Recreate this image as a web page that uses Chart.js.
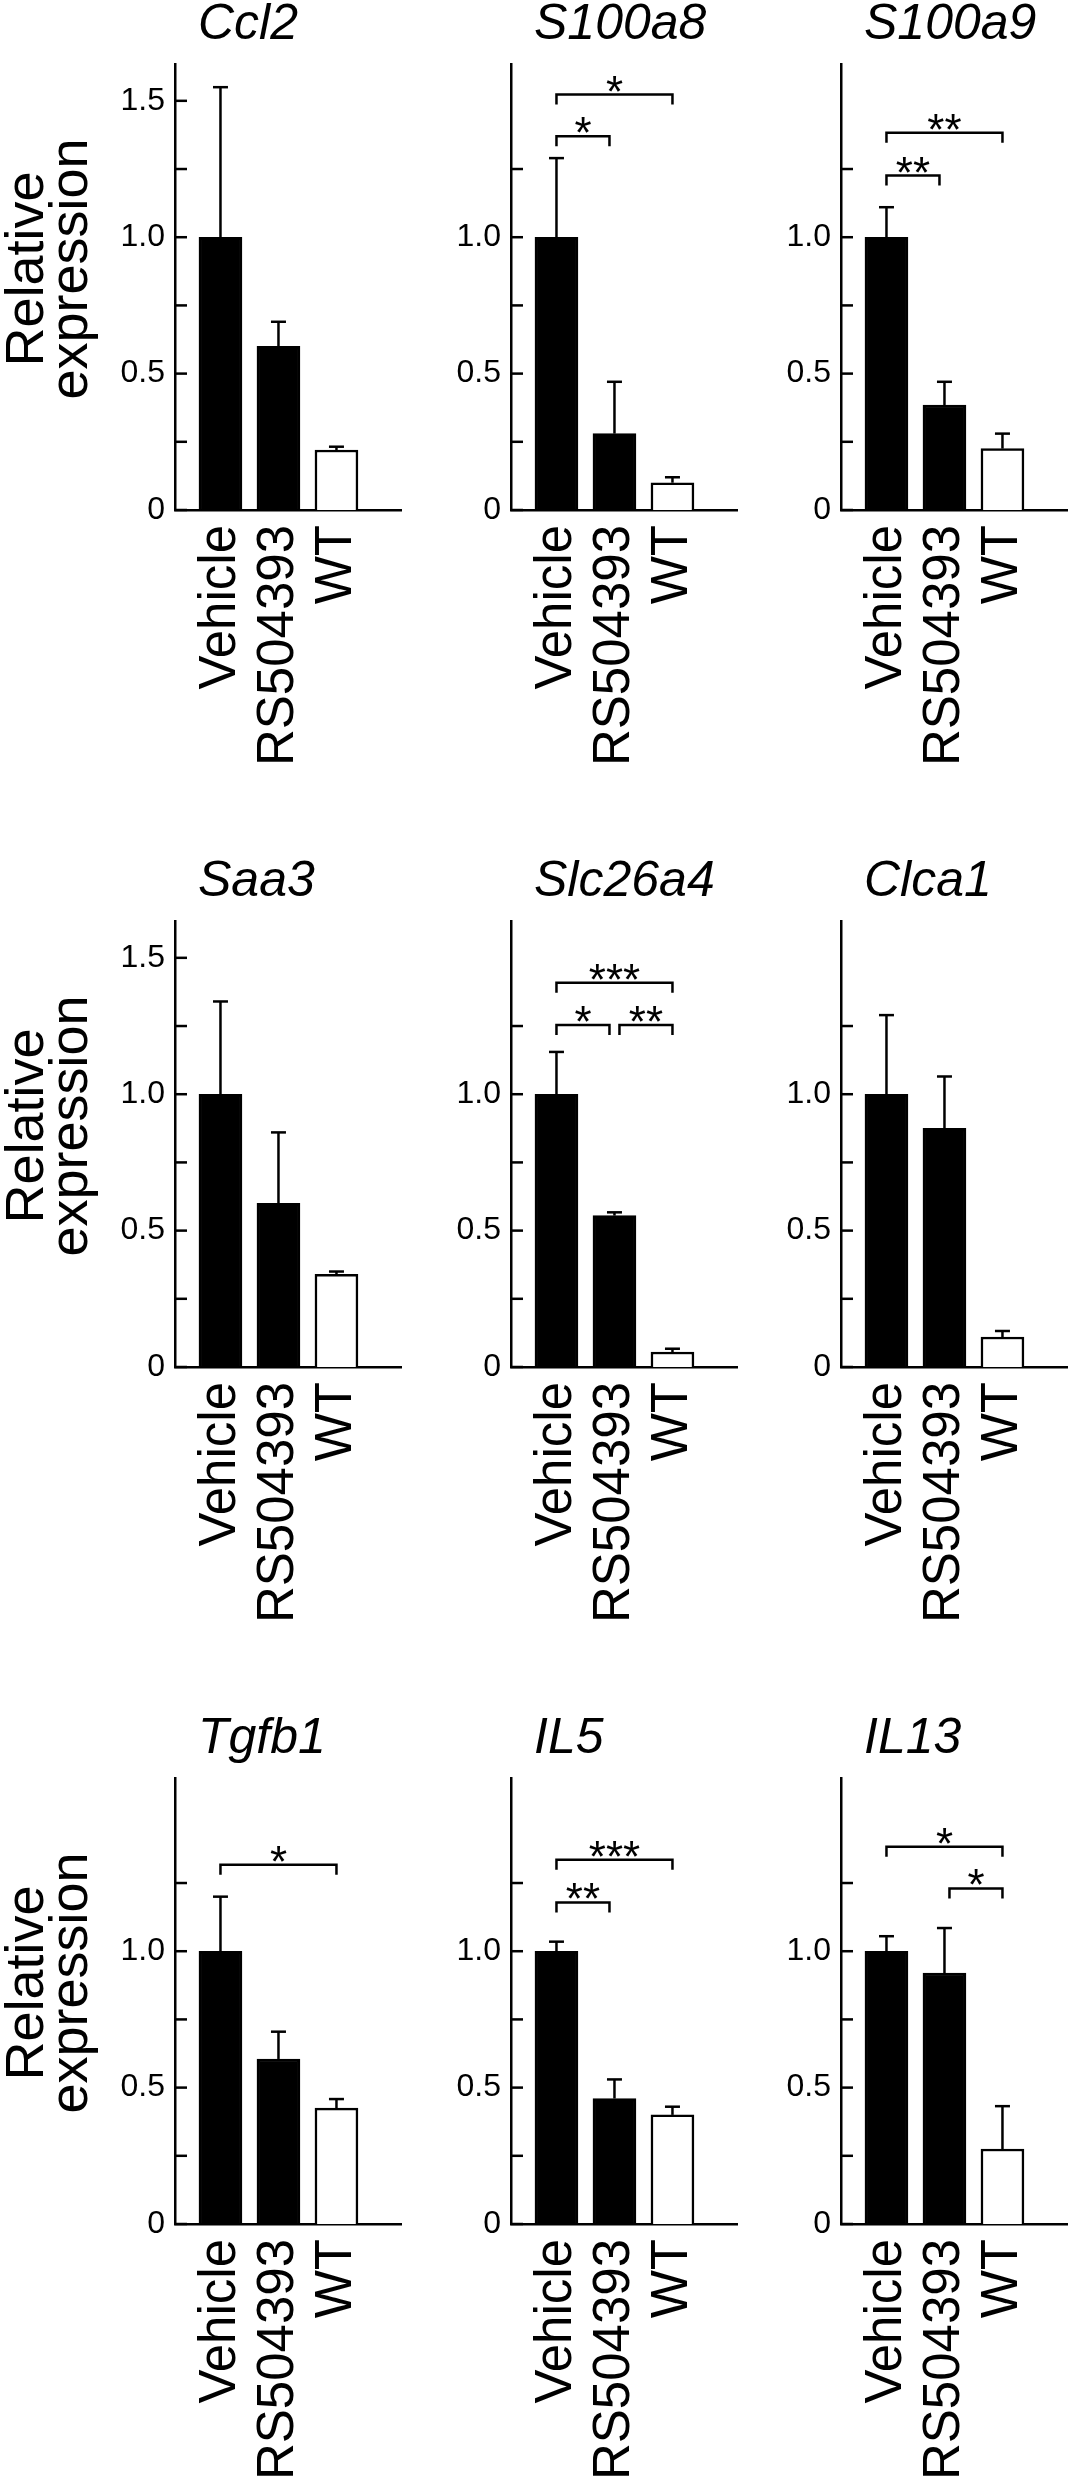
<!DOCTYPE html>
<html>
<head>
<meta charset="utf-8">
<title>Relative expression</title>
<script src="https://cdn.jsdelivr.net/npm/chart.js@4.4.0/dist/chart.umd.min.js"></script>
<style>
  html, body { margin: 0; padding: 0; background: #fff; }
  body { width: 1070px; height: 2481px; position: relative; overflow: hidden; }
  canvas { position: absolute; }
</style>
</head>
<body>
<script>
// Data
const groups = ['Vehicle', 'RS504393', 'WT'];
const genes = ['Ccl2', 'S100a8', 'S100a9', 'Saa3', 'Slc26a4', 'Clca1', 'Tgfb1', 'IL5', 'IL13'];

const means = [
    [1.00, 0.60, 0.22],
    [1.00, 0.28, 0.10],
    [1.00, 0.385, 0.225],
    [1.00, 0.60, 0.34],
    [1.00, 0.555, 0.055],
    [1.00, 0.875, 0.11],
    [1.00, 0.605, 0.425],
    [1.00, 0.46, 0.40],
    [1.00, 0.92, 0.275]
];

// SEM (upper whisker only)
const sems = [
    [0.55, 0.09, 0.012],
    [0.29, 0.19, 0.02],
    [0.11, 0.085, 0.055],
    [0.34, 0.26, 0.01],
    [0.155, 0.012, 0.012],
    [0.29, 0.19, 0.022],
    [0.20, 0.10, 0.033],
    [0.035, 0.07, 0.03],
    [0.055, 0.165, 0.157]
];

// highest tick mark drawn on each y axis
const tickTops = [1.5, 1.25, 1.25, 1.5, 1.25, 1.25, 1.25, 1.25, 1.25];
const tickMarks = [0, 0.25, 0.5, 0.75, 1.0, 1.25, 1.5];
const yLabelValues = [0, 0.5, 1.0, 1.5];
const yLabelText = ['0', '0.5', '1.0', '1.5'];

// significance brackets: [from group, to group, height, stars]
const brackets = [
    [],
    [[0, 1, 1.37, '*'], [0, 2, 1.523, '*']],
    [[0, 1, 1.226, '**'], [0, 2, 1.383, '**']],
    [],
    [[0, 1, 1.254, '*'], [1, 2, 1.254, '**'], [0, 2, 1.409, '***']],
    [],
    [[0, 2, 1.317, '*']],
    [[0, 1, 1.179, '**'], [0, 2, 1.335, '***']],
    [[0, 2, 1.383, '*'], [1, 2, 1.23, '*']]
];

const barFills = ['#000', '#000', '#fff'];

// Layout
const FONT = '"Liberation Sans", Arial, Helvetica, sans-serif';
const colLeft = [0, 336, 666];
const rowTop = [0, 857, 1714];
const CANVAS_W = 402, CANVAS_H = 767;
const AXIS_W = 175, TOP_PAD = 64, XAXIS_H = 257;
const Y_MAX = 1.635;

Chart.defaults.font.family = FONT;
Chart.defaults.color = '#000';

function line(ctx, x1, y1, x2, y2) {
    ctx.beginPath();
    ctx.moveTo(x1, y1);
    ctx.lineTo(x2, y2);
    ctx.stroke();
}

const decor = {
    id: 'decor',
    afterDatasetsDraw(chart, args, opts) {
        const k = opts.k;
        const { ctx, chartArea: a } = chart;
        const x = chart.scales.x, y = chart.scales.y;
        ctx.save();
        ctx.strokeStyle = '#000';
        ctx.fillStyle = '#000';
        ctx.lineWidth = 2.5;

        // tick marks point into the plot
        tickMarks.filter(v => v <= tickTops[k] + 1e-9).forEach(v => {
            const py = y.getPixelForValue(v);
            line(ctx, a.left, py, a.left + 12, py);
        });

        // error bars
        means[k].forEach((m, i) => {
            const px = x.getPixelForValue(i);
            const y0 = y.getPixelForValue(m);
            const y1 = y.getPixelForValue(m + sems[k][i]);
            line(ctx, px, y0, px, y1);
            line(ctx, px - 7.5, y1, px + 7.5, y1);
        });

        // brackets with stars
        ctx.font = '44px ' + FONT;
        ctx.textAlign = 'center';
        ctx.textBaseline = 'alphabetic';
        brackets[k].forEach(([i, j, v, stars]) => {
            let x1 = x.getPixelForValue(i);
            let x2 = x.getPixelForValue(j);
            if (i > 0) x1 += 5;
            if (j < groups.length - 1) x2 -= 5;
            const by = y.getPixelForValue(v);
            ctx.beginPath();
            ctx.moveTo(x1, by + 10);
            ctx.lineTo(x1, by);
            ctx.lineTo(x2, by);
            ctx.lineTo(x2, by + 10);
            ctx.stroke();
            ctx.fillText(stars, (x1 + x2) / 2, by + 12);
        });

        // gene name
        ctx.font = 'italic 50px ' + FONT;
        ctx.textAlign = 'left';
        ctx.fillText(genes[k], a.left + 23, a.top - 25);

        // y axis title on the first column
        if (k % 3 === 0) {
            ctx.font = '54px ' + FONT;
            ctx.textAlign = 'center';
            ctx.translate(0, a.bottom - 241);
            ctx.rotate(-Math.PI / 2);
            ctx.fillText('Relative', 0, 43);
            ctx.fillText('expression', 0, 87);
        }
        ctx.restore();
    }
};

genes.forEach((gene, k) => {
    const canvas = document.createElement('canvas');
    canvas.width = CANVAS_W;
    canvas.height = CANVAS_H;
    canvas.style.left = colLeft[k % 3] + 'px';
    canvas.style.top = rowTop[Math.floor(k / 3)] + 'px';
    document.body.appendChild(canvas);

    new Chart(canvas, {
        type: 'bar',
        data: {
            datasets: [{
                data: means[k].map((m, i) => ({ x: i, y: m })),
                backgroundColor: barFills,
                borderColor: '#000',
                borderWidth: 2.5,
                barThickness: 43
            }]
        },
        options: {
            responsive: false,
            animation: false,
            layout: { padding: { top: TOP_PAD, left: 0, right: 0, bottom: 0 } },
            plugins: {
                legend: { display: false },
                tooltip: { enabled: false },
                decor: { k: k }
            },
            scales: {
                x: {
                    type: 'linear',
                    offset: false,
                    min: -0.784,
                    max: 3.13,
                    grid: { display: false, drawTicks: false },
                    border: { display: true, color: '#000', width: 2.5 },
                    afterBuildTicks: ax => { ax.ticks = groups.map((_, i) => ({ value: i })); },
                    afterFit: ax => {
                        ax.height = XAXIS_H;
                        ax.paddingLeft = 0;
                        ax.paddingRight = 0;
                    },
                    ticks: {
                        autoSkip: false,
                        minRotation: 90,
                        maxRotation: 90,
                        padding: 15,
                        color: '#000',
                        font: { size: 51 },
                        callback: v => groups[v]
                    }
                },
                y: {
                    min: 0,
                    max: Y_MAX,
                    grid: { display: false, drawTicks: false },
                    border: { display: true, color: '#000', width: 2.5 },
                    afterBuildTicks: ax => {
                        ax.ticks = yLabelValues.filter(v => v <= tickTops[k] + 1e-9).map(v => ({ value: v }));
                    },
                    afterFit: ax => {
                        ax.width = AXIS_W;
                        ax.paddingTop = 0;
                        ax.paddingBottom = 0;
                    },
                    ticks: {
                        padding: 10,
                        color: '#000',
                        font: { size: 32 },
                        callback: v => yLabelText[yLabelValues.indexOf(v)]
                    }
                }
            }
        },
        plugins: [decor]
    });
});
</script>
</body>
</html>
